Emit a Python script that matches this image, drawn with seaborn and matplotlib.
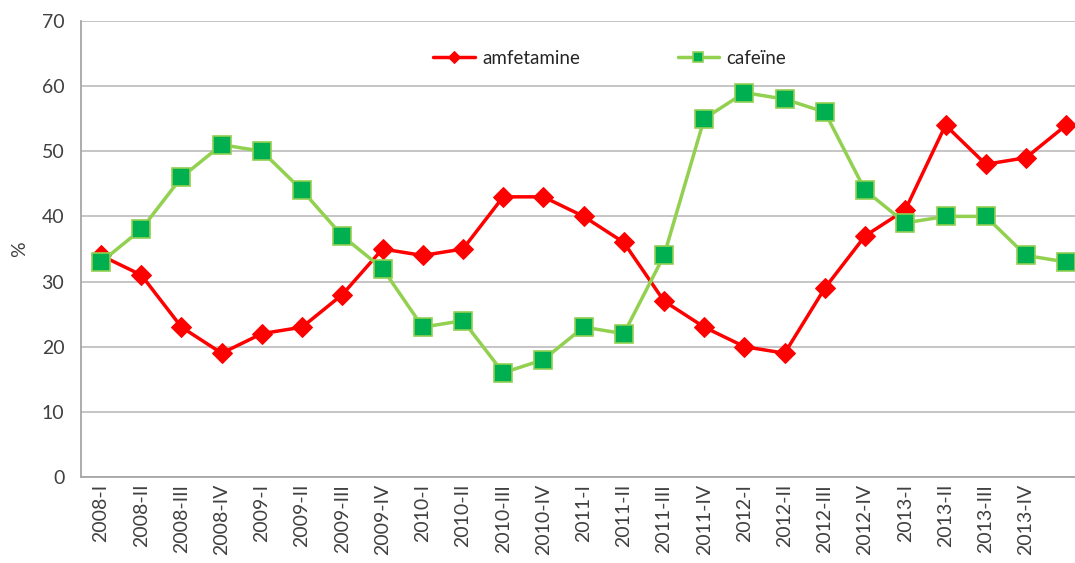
import matplotlib
matplotlib.use('Agg')
import matplotlib.pyplot as plt
import seaborn as sns
import pandas as pd

# kwartalen (laatste punt zonder label)
quarters = ['2008-I', '2008-II', '2008-III', '2008-IV',
            '2009-I', '2009-II', '2009-III', '2009-IV',
            '2010-I', '2010-II', '2010-III', '2010-IV',
            '2011-I', '2011-II', '2011-III', '2011-IV',
            '2012-I', '2012-II', '2012-III', '2012-IV',
            '2013-I', '2013-II', '2013-III', '2013-IV', '']

amfetamine = [34, 31, 23, 19, 22, 23, 28, 35, 34, 35, 43, 43, 40, 36,
              27, 23, 20, 19, 29, 37, 41, 54, 48, 49, 54]
cafeine = [33, 38, 46, 51, 50, 44, 37, 32, 23, 24, 16, 18, 23, 22,
           34, 55, 59, 58, 56, 44, 39, 40, 40, 34, 33]

df = pd.DataFrame({'pos': range(len(quarters)),
                   'amfetamine': amfetamine,
                   'cafeïne': cafeine})

sns.set_style('white')
plt.rcParams['font.family'] = ['Lato', 'DejaVu Sans']

fig = plt.figure(figsize=(10.75, 5.63), dpi=100)
ax = fig.add_axes([0.0753, 0.1528, 0.9247, 0.81])

sns.lineplot(data=df, x='pos', y='amfetamine', ax=ax, color='#FF0000',
             linewidth=2.5, marker='D', markersize=10.5,
             markerfacecolor='#FF0000', markeredgecolor='#FF0000',
             label='amfetamine')
sns.lineplot(data=df, x='pos', y='cafeïne', ax=ax, color='#92D050',
             linewidth=2.5, marker='s', markersize=12.5,
             markerfacecolor='#00B050', markeredgecolor='#92D050',
             markeredgewidth=1.2, label='cafeïne')

ax.set_ylim(0, 70)
ax.set_yticks(range(0, 71, 10))
ax.set_xlim(-0.5, 24.22)
ax.set_xticks(range(len(quarters)))
ax.set_xticklabels(quarters, rotation=90, fontsize=14, color='#404040')
ax.tick_params(axis='y', labelsize=14, labelcolor='#404040', length=0, pad=12)
ax.tick_params(axis='x', length=0, pad=5)

ax.grid(axis='y', color='#C0C0C0', linewidth=1.3)
ax.set_axisbelow(True)
for side in ['top', 'right']:
    ax.spines[side].set_visible(False)
for side in ['left', 'bottom']:
    ax.spines[side].set_color('#A6A6A6')
    ax.spines[side].set_linewidth(1.3)

ax.set_xlabel('')
ax.set_ylabel('%', fontsize=14, color='#404040', labelpad=10)

leg = ax.legend(loc='center', bbox_to_anchor=(0.532, 0.918), ncol=2,
                frameon=False, fontsize=13.5, handlelength=2.2,
                handletextpad=0.4, columnspacing=5.2, markerscale=0.6)
for t in leg.get_texts():
    t.set_color('#262626')

plt.savefig('out.png', dpi=100)
plt.close()
